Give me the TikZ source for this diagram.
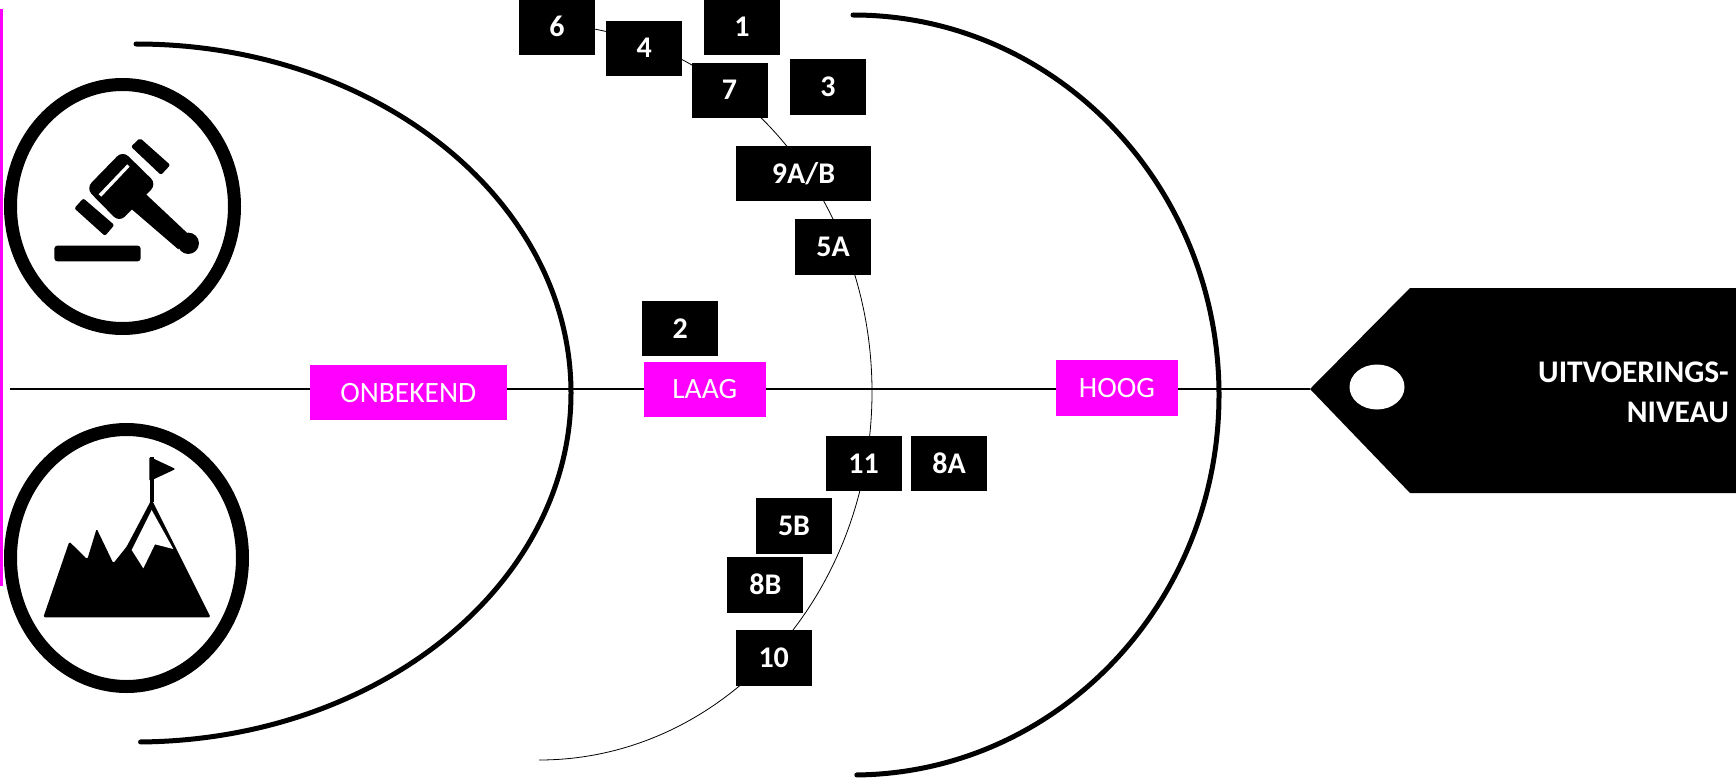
\documentclass[tikz,border=0pt]{standalone}
\usepackage{fontspec}
\setmainfont{Carlito}
\definecolor{mag}{HTML}{FF00FF}
\tikzset{
  numbox/.style={fill=black,text=white,font=\fontsize{30}{34}\selectfont\bfseries,inner sep=0pt,minimum width=76pt,minimum height=55.5pt,text height=19pt,text depth=0pt},
  pinkbox/.style={fill=mag,text=white,font=\fontsize{29.5}{34}\selectfont,inner sep=0pt,minimum height=55.5pt,text height=19pt,text depth=0pt},
  bigarc/.style={line width=5pt,line cap=round},
  ring/.style={line width=13pt},
}
\begin{document}
\begin{tikzpicture}[x=1pt,y=-1pt]
\useasboundingbox (0,0) rectangle (1736,778);
% left bar
\fill[mag] (0,9) rectangle (2.5,586);
% rings
\draw[ring] (122.5,206.5) ellipse [x radius=112,y radius=122];
\draw[ring] (126.5,558) ellipse [x radius=116,y radius=128.5];
% gavel
\begin{scope}[shift={(0,60)},x=0.3333pt,y=-0.3333pt]
  \fill[rounded corners=3pt] (163,557) rectangle (422,604);
  \fill[rounded corners=2pt] (393,260)--(420,234)--(511,315)--(483,345)--cycle;
  \fill[rounded corners=2pt] (223,445)--(250,415)--(343,495)--(315,528)--cycle;
  \fill[rounded corners=8pt] (368,272)--(470,372)--(358,487)--(258,385)--cycle;
  \fill (435,400)--(392,445)--(535,568)--(568,525)--cycle;
  \fill (565,550) circle [radius=32];
  \fill[white] (382,313)--(389,320)--(304,410)--(296,403)--cycle;
\end{scope}
% mountain
\begin{scope}[shift={(0,400)},x=0.3333pt,y=-0.3333pt]
  \fill[rounded corners=1.5pt] (130,652)--(208,425)--(262,478)--(290,386)--(340,490)--(380,440)--(455,298)--(632,652)--cycle;
  \fill[white] (455,330)--(395,450)--(430,505)--(465,433)--(520,447)--cycle;
  \fill (450,172) rectangle (462,305);
  \fill[rounded corners=1.5pt] (448,170)--(527,207)--(448,244)--cycle;
\end{scope}
% arcs
\draw[bigarc] (136,44) arc [start angle=-90,end angle=89.4,x radius=435,y radius=349];
\draw[bigarc] (853,15) arc [start angle=-90,end angle=89.4,x radius=366,y radius=380];
\draw[line width=0.8pt] (539,24) arc [start angle=-90,end angle=90,x radius=333,y radius=368];
% tag
\coordinate (linestart) at (10,389);
\coordinate (tagtip) at (1310,389);
\fill (tagtip)--(1410,288)--(1736,288)--(1736,493)--(1410,493)--cycle;
\draw[line width=2pt] (linestart) -- (tagtip);
\fill[white] (1377,387) ellipse [x radius=27.5,y radius=22.5];
\node[text=white,font=\fontsize{31.5}{40}\selectfont\bfseries,align=right,inner sep=0pt,anchor=east] (tagtext) at (1729,392) {UITVOERINGS-\\NIVEAU};
% pink labels
\node[pinkbox,minimum width=196.7pt] (onb) at (408.3,392.5) {ONBEKEND};
\node[pinkbox,minimum width=121.7pt] (laag) at (704.8,389.3) {LAAG};
\node[pinkbox,minimum width=122pt] (hoog) at (1117,388) {HOOG};
% numbered boxes
\node[numbox] (n6) at (557,27.5) {6};
\node[numbox] (n4) at (644.3,48.3) {4};
\node[numbox] (n1) at (742,27.5) {1};
\node[numbox] (n7) at (729.5,90.3) {7};
\node[numbox] (n3) at (828,86.8) {3};
\node[numbox,minimum width=135pt] (n9) at (803.5,173.5) {9A/B};
\node[numbox] (n5a) at (833,247.2) {5A};
\node[numbox] (n2) at (680.3,328.5) {2};
\node[numbox] (n11) at (863.5,463.7) {11};
\node[numbox] (n8a) at (949,463.5) {8A};
\node[numbox] (n5b) at (794,526) {5B};
\node[numbox] (n8b) at (765.3,585) {8B};
\node[numbox] (n10) at (773.7,658) {10};
\end{tikzpicture}
\end{document}
